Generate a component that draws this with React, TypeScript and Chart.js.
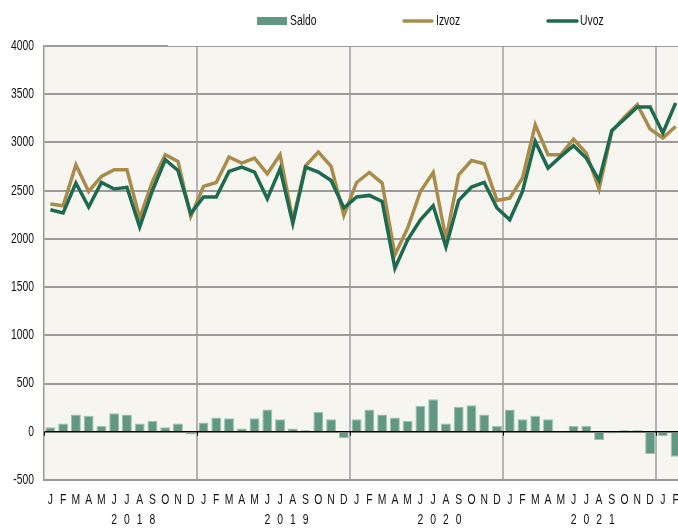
import React, { useEffect, useRef } from "react";
import { Chart, registerables } from "chart.js";

Chart.register(...registerables);

const monthLetters = ["J", "F", "M", "A", "M", "J", "J", "A", "S", "O", "N", "D"];
const years = ["2018", "2019", "2020", "2021"];
const categories: string[] = [
  ...monthLetters, ...monthLetters, ...monthLetters, ...monthLetters, "J", "F",
];

const izvoz = [
  2361, 2344, 2769, 2492, 2648, 2717, 2717, 2216, 2596, 2873, 2803, 2233,
  2544, 2585, 2849, 2786, 2838, 2675, 2873, 2195, 2758, 2900, 2751, 2245,
  2585, 2689, 2579, 1835, 2112, 2492, 2689, 1998, 2665, 2813, 2779, 2399,
  2423, 2631, 3183, 2873, 2873, 3035, 2890, 2517, 3114, 3263, 3391, 3139,
  3046, 3166,
];
const uvoz = [
  2302, 2268, 2579, 2330, 2585, 2517, 2534, 2123, 2502, 2821, 2710, 2261,
  2434, 2434, 2700, 2745, 2693, 2416, 2727, 2160, 2745, 2693, 2606, 2320,
  2434, 2451, 2388, 1697, 1991, 2198, 2344, 1915, 2399, 2537, 2585, 2320,
  2198, 2492, 3011, 2734, 2855, 2966, 2838, 2606, 3125, 3243, 3367, 3367,
  3098, 3409,
];
const saldo = [
  46, 87, 180, 166, 59, 191, 180, 87, 111, 46, 87, -27,
  97, 149, 139, 35, 139, 232, 129, 35, 17, 204, 129, -68,
  129, 232, 180, 149, 111, 270, 336, 87, 259, 274, 180, 59,
  232, 129, 166, 129, 5, 59, 59, -86, -17, 17, 17, -231,
  -45, -259,
];
const yTicks = { min: -500, max: 4000, step: 500 };

const FONT = "'Liberation Sans', Arial, sans-serif";
const SX = 0.74;
const C_IZVOZ = "#a98c4b";
const C_UVOZ = "#1e6a50";
const C_SALDO = "#609884";
const C_TEXT = "#111";

function narrowText(ctx: CanvasRenderingContext2D, text: string, x: number, y: number, align: CanvasTextAlign) {
  ctx.save();
  ctx.translate(x, y);
  ctx.scale(SX, 1);
  ctx.textAlign = align;
  ctx.textBaseline = "middle";
  ctx.fillText(text, 0, 0);
  ctx.restore();
}

const decorPlugin = {
  id: "decor",
  beforeDraw(chart: any) {
    const { ctx, chartArea: a } = chart;
    ctx.save();
    ctx.fillStyle = "#f6f5f0";
    ctx.fillRect(a.left, a.top, a.right - a.left, a.bottom - a.top);
    ctx.restore();
  },
  afterDraw(chart: any) {
    const { ctx, chartArea: a, scales } = chart;
    const x = scales.x;
    const y = scales.y;
    ctx.save();
    // white legend band covering top line
    ctx.fillStyle = "#ffffff";
    ctx.fillRect(168, 0, chart.width - 168, 46);
    // zero line tick marks
    const y0 = y.getPixelForValue(0);
    ctx.strokeStyle = "#000";
    ctx.lineWidth = 1;
    for (let k = 0; k <= 48; k += 12) {
      const px = k === 0 ? a.left : (x.getPixelForValue(k - 1) + x.getPixelForValue(k)) / 2;
      ctx.beginPath();
      ctx.moveTo(Math.round(px) + 0.5, y0);
      ctx.lineTo(Math.round(px) + 0.5, y0 + 4);
      ctx.stroke();
    }
    ctx.fillStyle = C_TEXT;
    ctx.font = "14px " + FONT;
    // y tick labels
    y.ticks.forEach((t: any) => {
      narrowText(ctx, String(t.value), 34, y.getPixelForValue(t.value), "right");
    });
    // month letters
    categories.forEach((m, i) => {
      narrowText(ctx, m, x.getPixelForValue(i), 500, "center");
    });
    // year labels: digits under months 6..9 of each year
    years.forEach((yr, i) => {
      yr.split("").forEach((d, j) => {
        narrowText(ctx, d, x.getPixelForValue(i * 12 + 5 + j), 520, "center");
      });
    });
    // legend
    const ly = 21;
    ctx.fillStyle = C_SALDO;
    ctx.fillRect(257, 17, 30, 8);
    ctx.lineCap = "round";
    ctx.lineWidth = 3.5;
    ctx.strokeStyle = C_IZVOZ;
    ctx.beginPath();
    ctx.moveTo(404, ly);
    ctx.lineTo(432, ly);
    ctx.stroke();
    ctx.strokeStyle = C_UVOZ;
    ctx.beginPath();
    ctx.moveTo(548, ly);
    ctx.lineTo(577, ly);
    ctx.stroke();
    ctx.fillStyle = C_TEXT;
    narrowText(ctx, "Saldo", 290, ly, "left");
    narrowText(ctx, "Izvoz", 436, ly, "left");
    narrowText(ctx, "Uvoz", 580, ly, "left");
    ctx.restore();
  },
};

export default function App() {
  const ref = useRef<HTMLCanvasElement | null>(null);
  useEffect(() => {
    if (!ref.current) return;
    const chart = new Chart(ref.current, {
      type: "bar",
      data: {
        labels: categories,
        datasets: [
          {
            type: "line",
            label: "Uvoz",
            data: uvoz,
            borderColor: C_UVOZ,
            borderWidth: 3.5,
            pointRadius: 0,
            tension: 0,
            order: 0,
          } as any,
          {
            type: "line",
            label: "Izvoz",
            data: izvoz,
            borderColor: C_IZVOZ,
            borderWidth: 3.5,
            pointRadius: 0,
            tension: 0,
            order: 1,
          } as any,
          {
            type: "bar",
            label: "Saldo",
            data: saldo,
            backgroundColor: C_SALDO,
            borderColor: "#9cc2b2",
            borderWidth: 1,
            barPercentage: 0.8,
            categoryPercentage: 0.97,
            order: 2,
          } as any,
        ],
      },
      options: {
        responsive: false,
        animation: false,
        layout: { padding: { top: 46, left: 0, right: 0, bottom: 0 } },
        plugins: { legend: { display: false }, tooltip: { enabled: false } },
        scales: {
          x: {
            offset: true,
            grid: {
              offset: true,
              drawTicks: false,
              lineWidth: 2,
              color: (c: any) => (c.index > 0 && c.index % 12 === 0 ? "#b4b4b4" : "rgba(0,0,0,0)"),
            },
            border: { display: true, color: "#9a9a9a", width: 2 },
            ticks: { display: false, autoSkip: false },
            afterFit: (s: any) => {
              s.height = 48;
            },
          },
          y: {
            min: yTicks.min,
            max: yTicks.max,
            ticks: { display: false, stepSize: yTicks.step },
            grid: {
              drawTicks: false,
              color: (c: any) => (c.tick && c.tick.value === 0 ? "#000" : "#9a9a9a"),
              lineWidth: (c: any) => (c.tick && c.tick.value === 0 ? 1.5 : 2),
            },
            border: { display: true, color: "#9a9a9a", width: 1.5 },
            afterFit: (s: any) => {
              s.width = 44;
            },
          },
        },
      },
      plugins: [decorPlugin],
    });
    return () => chart.destroy();
  }, []);
  return (
    <div
      style={{
        position: "fixed",
        left: 0,
        top: 0,
        width: 678,
        height: 528,
        overflow: "hidden",
        background: "#fff",
      }}
    >
      <canvas ref={ref} width={682} height={528} style={{ width: 682, height: 528, display: "block" }} />
    </div>
  );
}
